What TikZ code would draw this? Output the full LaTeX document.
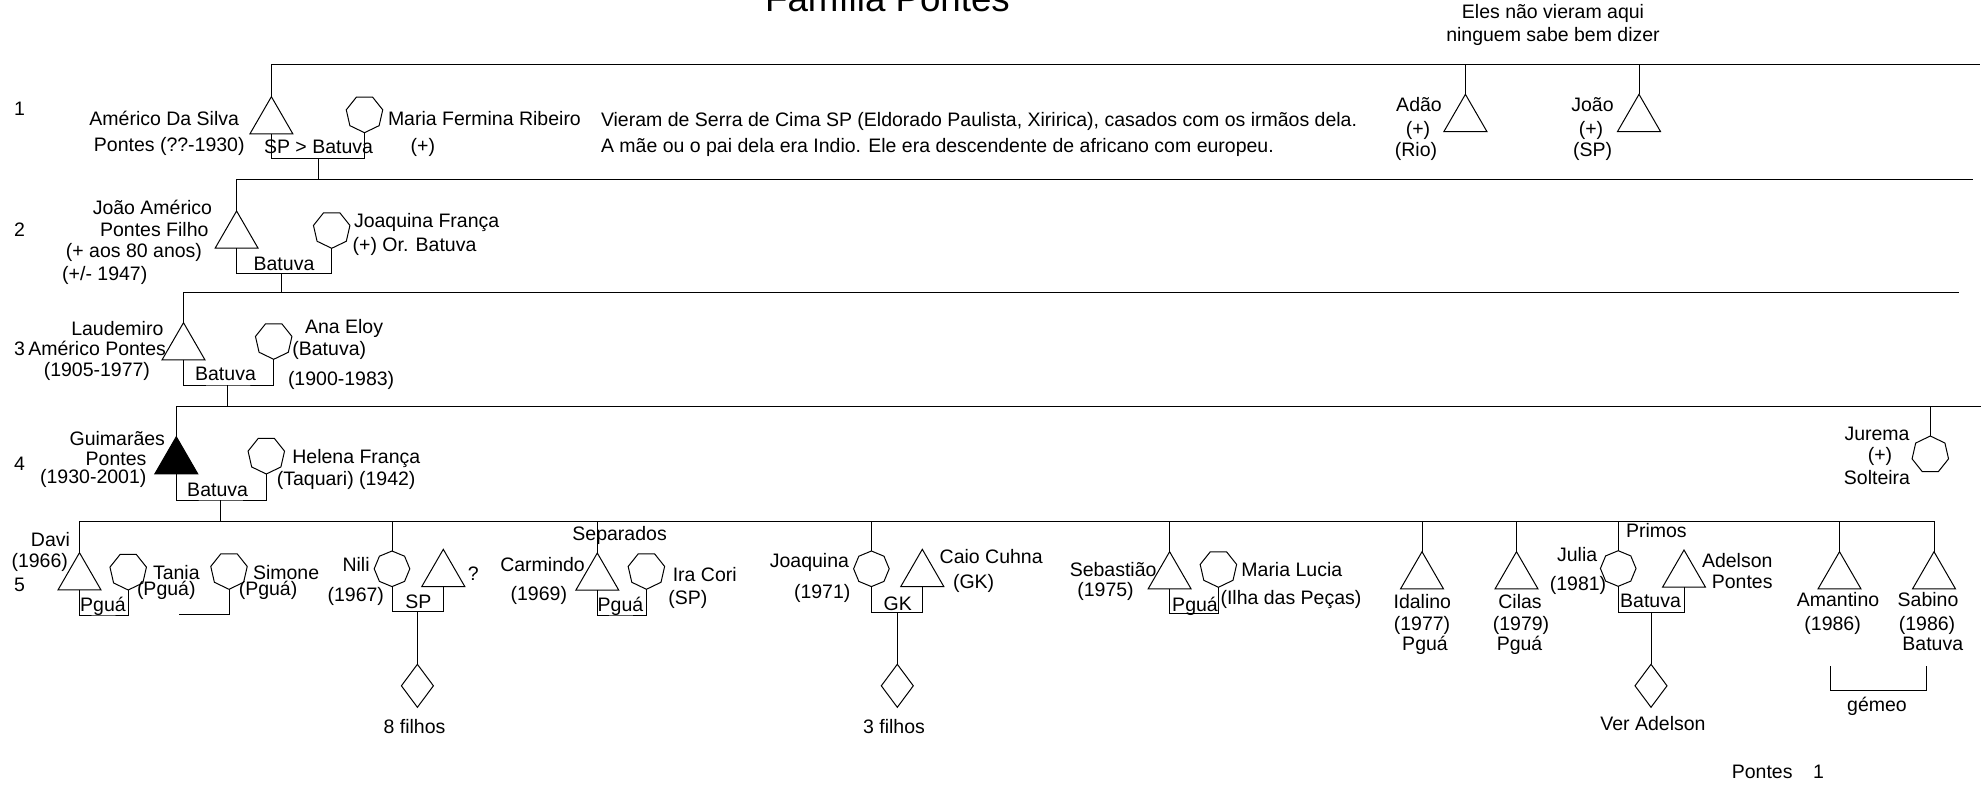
\documentclass[tikz,border=0pt]{standalone}
\usepackage{fontspec}
\setmainfont{Liberation Sans}
\usetikzlibrary{shapes.geometric}
\newcommand\fs{\fontsize{19.5}{23}\selectfont}
\begin{document}
\begin{tikzpicture}[x=1pt,y=-1pt,line width=1pt,
  tri/.style={draw, regular polygon, regular polygon sides=3, minimum size=49.6pt, inner sep=0pt, outer sep=0pt, anchor=north},
  fem/.style={draw, regular polygon, regular polygon sides=7, shape border rotate=180, minimum size=37.4pt, inner sep=0pt, outer sep=0pt, anchor=south},
  femup/.style={draw, regular polygon, regular polygon sides=7, minimum size=37.4pt, inner sep=0pt, outer sep=0pt, anchor=north},
  femoct/.style={draw, regular polygon, regular polygon sides=8, shape border rotate=22.5, minimum size=35.6pt, inner sep=0pt, outer sep=0pt, anchor=north},
  kid/.style={draw, diamond, minimum width=32pt, minimum height=43pt, inner sep=0pt, outer sep=0pt},
  txt/.style={inner sep=0pt, outer sep=0pt, font=\fs}]
\useasboundingbox (0,0) rectangle (1988,784);
\fill[white] (0,0) rectangle (1988,784);

% title
\node[txt, font=\fontsize{36.7}{40}\selectfont, anchor=base] (title) at (887.5,11.7) {Família Pontes};

% generation numbers
\node[txt, anchor=base west] (n1) at (14,115) {1};
\node[txt, anchor=base west] (n2) at (14,236) {2};
\node[txt, anchor=base west] (n3) at (14,355) {3};
\node[txt, anchor=base west] (n4) at (14,470) {4};
\node[txt, anchor=base west] (n5) at (14,591.7) {5};

% ---------- generation 1 ----------
\node[tri] (am) at (271.4,96.7) {};
\node[fem] (mf) at (364.5,132.7) {};
\node[tri] (adao) at (1465.4,94.3) {};
\node[tri] (joao1) at (1639,94.3) {};
\coordinate (g1) at (1980,64.3);
\draw (am.north) |- (g1);
\draw (adao.north) -- (adao.north |- g1);
\draw (joao1.north) -- (joao1.north |- g1);
\coordinate (c1) at (318.8,158.3);
\draw (am.south) |- (c1) -| (mf.south);
\coordinate (g2) at (1973,179.3);
\draw (c1) -- (c1 |- g2);

\node[txt, anchor=base east] (l1a) at (239,125) {Américo Da Silva};
\node[txt, anchor=base east] (l1b) at (244.6,151.7) {Pontes (??-1930)};
\node[txt, anchor=base west] (l1c) at (388,125) {Maria Fermina Ribeiro};
\node[txt, anchor=base west] (l1d) at (410.7,152) {(+)};
\node[txt, anchor=base] (l1e) at (318.5,153) {SP > Batuva};
\node[txt, anchor=base west] (l1f) at (601,126) {Vieram de Serra de Cima SP (Eldorado Paulista, Xiririca), casados com os irmãos dela.};
\node[txt, anchor=base west] (l1g) at (601,152.7) {A mãe ou o pai dela era Indio. Ele era descendente de africano com europeu.};
\node[txt, anchor=base] (l1h) at (1553,18.3) {Eles não vieram aqui};
\node[txt, anchor=base] (l1i) at (1553,41.7) {ninguem sabe bem dizer};
\node[txt, anchor=base] (l1j) at (1419,111.7) {Adão};
\node[txt, anchor=base] (l1k) at (1418,135) {(+)};
\node[txt, anchor=base] (l1l) at (1416,156.7) {(Rio)};
\node[txt, anchor=base] (l1m) at (1592.5,111.7) {João};
\node[txt, anchor=base] (l1n) at (1591,135) {(+)};
\node[txt, anchor=base] (l1o) at (1592.5,156.7) {(SP)};

% ---------- generation 2 ----------
\node[tri] (jam) at (236.6,211) {};
\node[fem] (jf) at (331.7,248.3) {};
\draw (jam.north) |- (g2);
\coordinate (c2) at (281.3,273.3);
\draw (jam.south) |- (c2) -| (jf.south);
\coordinate (g3) at (1959,292.7);
\draw (c2) -- (c2 |- g3);

\node[txt, anchor=base east] (l2a) at (212,214) {João Américo};
\node[txt, anchor=base east] (l2b) at (208.5,236) {Pontes Filho};
\node[txt, anchor=base east] (l2c) at (202,257) {(+ aos 80 anos)};
\node[txt, anchor=base east] (l2d) at (147.3,280) {(+/- 1947)};
\node[txt, anchor=base west] (l2e) at (354,227.7) {Joaquina França};
\node[txt, anchor=base west] (l2f) at (352.7,251) {(+) Or. Batuva};
\node[txt, anchor=base] (l2g) at (284,270) {Batuva};

% ---------- generation 3 ----------
\node[tri] (lau) at (183.5,322.7) {};
\node[fem] (ana) at (273.7,359.3) {};
\draw (lau.north) |- (g3);
\coordinate (c3) at (227.7,385);
\draw (lau.south) |- (c3) -| (ana.south);
\coordinate (g4) at (1981,406);
\draw (c3) -- (c3 |- g4);

\node[txt, anchor=base east] (l3a) at (163.4,335) {Laudemiro};
\node[txt, anchor=base east] (l3b) at (166,355) {Américo Pontes};
\node[txt, anchor=base east] (l3c) at (150,376.7) {(1905-1977)};
\node[txt, anchor=base west] (l3d) at (305,333.3) {Ana Eloy};
\node[txt, anchor=base west] (l3e) at (292.4,355) {(Batuva)};
\node[txt, anchor=base west] (l3f) at (288,385) {(1900-1983)};
\node[txt, anchor=base] (l3g) at (225.5,380.7) {Batuva};

% ---------- generation 4 ----------
\node[tri, fill=black] (gui) at (176.3,436.7) {};
\node[fem] (hel) at (266.3,474) {};
\node[femup] (jur) at (1930.3,436) {};
\draw (gui.north) |- (g4);
\draw (jur.north) -- (jur.north |- g4);
\coordinate (c4) at (220.3,500);
\draw (gui.south) |- (c4) -| (hel.south);
\coordinate (g5) at (1934,521);
\draw (c4) -- (c4 |- g5);

\node[txt, anchor=base east] (l4a) at (165,445) {Guimarães};
\node[txt, anchor=base east] (l4b) at (146.4,465) {Pontes};
\node[txt, anchor=base east] (l4c) at (146.4,483) {(1930-2001)};
\node[txt, anchor=base west] (l4d) at (292.4,463.3) {Helena França};
\node[txt, anchor=base west] (l4e) at (276.8,485) {(Taquari) (1942)};
\node[txt, anchor=base] (l4f) at (217.6,496.7) {Batuva};
\node[txt, anchor=base] (l4g) at (1877,440) {Jurema};
\node[txt, anchor=base] (l4h) at (1880,461) {(+)};
\node[txt, anchor=base] (l4i) at (1877,484) {Solteira};

% ---------- generation 5 ----------
\node[tri] (davi) at (79.5,552.7) {};
\node[fem] (tan) at (128.2,590) {};
\node[fem] (sim) at (229,589.3) {};
\node[femoct] (nil) at (392,551) {};
\node[tri] (q) at (443.3,549.3) {};
\node[tri] (car) at (597.3,553) {};
\node[fem] (ira) at (646.4,589.3) {};
\node[femoct] (joa) at (871.4,551) {};
\node[tri] (cai) at (922.3,549.3) {};
\node[tri] (seb) at (1169.6,551.7) {};
\node[fem] (ml) at (1218.4,587.3) {};
\node[tri] (ida) at (1422,551.7) {};
\node[tri] (cil) at (1516.5,551.7) {};
\node[femoct] (jul) at (1618.2,550.7) {};
\node[tri] (ade) at (1684,550) {};
\node[tri] (ama) at (1839.5,551.7) {};
\node[tri] (sab) at (1934,551.7) {};

\draw (davi.north) |- (g5) -- (sab.north);
\foreach \p in {nil,car,joa,seb,ida,cil,jul,ama}{
  \draw (\p.north) -- (\p.north |- g5);
}

\coordinate (cd) at (103,615);
\draw (davi.south) |- (cd) -| (tan.south);
\coordinate (cs1) at (179,614.3);
\draw (sim.south) |- (cs1);
\coordinate (cn) at (417.4,611.7);
\draw (nil.south) |- (cn) -| (q.south);
\node[kid] (d1) at (417.4,685.8) {};
\draw (cn) -- (d1.north);
\coordinate (cc) at (620,615);
\draw (car.south) |- (cc) -| (ira.south);
\coordinate (cj) at (897.3,612.3);
\draw (joa.south) |- (cj) -| (cai.south);
\node[kid] (d2) at (897.3,685.8) {};
\draw (cj) -- (d2.north);
\coordinate (cs) at (1192,613.3);
\draw (seb.south) |- (cs) -| (ml.south);
\coordinate (cju) at (1651,612.3);
\draw (jul.south) |- (cju) -| (ade.south);
\node[kid] (d3) at (1651,685.8) {};
\draw (cju) -- (d3.north);
\coordinate (tw1) at (1830.5,666);
\coordinate (tw2) at (1926.2,666);
\coordinate (twm) at (1878,690.7);
\draw (tw1) |- (twm) -| (tw2);

\node[txt, anchor=base east] (l5a) at (70,546.7) {Davi};
\node[txt, anchor=base east] (l5b) at (67.9,567.7) {(1966)};
\node[txt, anchor=base] (l5c) at (103,611) {Pguá};
\node[txt, anchor=base west] (l5d) at (153,579) {Tania};
\node[txt, anchor=base west] (l5e) at (137,595.7) {(Pguá)};
\node[txt, anchor=base west] (l5f) at (253,579) {Simone};
\node[txt, anchor=base west] (l5g) at (238.8,595.7) {(Pguá)};
\node[txt, anchor=base east] (l5h) at (369.6,571.7) {Nili};
\node[txt, anchor=base east] (l5i) at (384,601.7) {(1967)};
\node[txt, anchor=base west] (l5j) at (467.9,580) {?};
\node[txt, anchor=base] (l5k) at (418.4,608.3) {SP};
\node[txt, anchor=base] (l5l) at (414.5,733.3) {8 filhos};
\node[txt, anchor=base] (l5m) at (619.6,540) {Separados};
\node[txt, anchor=base east] (l5n) at (584.8,571.7) {Carmindo};
\node[txt, anchor=base east] (l5o) at (567,600) {(1969)};
\node[txt, anchor=base] (l5p) at (620.5,611.7) {Pguá};
\node[txt, anchor=base west] (l5q) at (672.8,581) {Ira Cori};
\node[txt, anchor=base west] (l5r) at (668.3,604.3) {(SP)};
\node[txt, anchor=base east] (l5s) at (849,567.7) {Joaquina};
\node[txt, anchor=base east] (l5t) at (850.4,598.3) {(1971)};
\node[txt, anchor=base west] (l5u) at (939.7,563.3) {Caio Cuhna};
\node[txt, anchor=base west] (l5v) at (953,588.3) {(GK)};
\node[txt, anchor=base] (l5w) at (897.8,610) {GK};
\node[txt, anchor=base] (l5x) at (894,733.3) {3 filhos};
\node[txt, anchor=base east] (l5y) at (1156.5,576) {Sebastião};
\node[txt, anchor=base east] (l5z) at (1133.7,596.7) {(1975)};
\node[txt, anchor=base] (l6a) at (1195,611) {Pguá};
\node[txt, anchor=base west] (l6b) at (1241.4,576) {Maria Lucia};
\node[txt, anchor=base west] (l6c) at (1220.5,604) {(Ilha das Peças)};
\node[txt, anchor=base] (l6d) at (1422.3,608.3) {Idalino};
\node[txt, anchor=base] (l6e) at (1422,630) {(1977)};
\node[txt, anchor=base] (l6f) at (1425,650) {Pguá};
\node[txt, anchor=base] (l6g) at (1520,608.3) {Cilas};
\node[txt, anchor=base] (l6h) at (1521,630) {(1979)};
\node[txt, anchor=base] (l6i) at (1519.5,650) {Pguá};
\node[txt, anchor=base west] (l6j) at (1626,537.3) {Primos};
\node[txt, anchor=base east] (l6k) at (1597.2,561.7) {Julia};
\node[txt, anchor=base east] (l6l) at (1606.2,590) {(1981)};
\node[txt, anchor=base east] (l6m) at (1772.5,567.7) {Adelson};
\node[txt, anchor=base east] (l6n) at (1772.5,588.3) {Pontes};
\node[txt, anchor=base] (l6o) at (1650.5,607.7) {Batuva};
\node[txt, anchor=base] (l6p) at (1653,730) {Ver Adelson};
\node[txt, anchor=base] (l6q) at (1838,606) {Amantino};
\node[txt, anchor=base] (l6r) at (1832.6,630.7) {(1986)};
\node[txt, anchor=base] (l6s) at (1928,606) {Sabino};
\node[txt, anchor=base] (l6t) at (1927,630.7) {(1986)};
\node[txt, anchor=base] (l6u) at (1932.8,650.7) {Batuva};
\node[txt, anchor=base] (l6v) at (1877,711.7) {gémeo};
\node[txt, anchor=base west] (l6w) at (1731.8,778.3) {Pontes};
\node[txt, anchor=base west] (l6x) at (1813,778.3) {1};
\end{tikzpicture}
\end{document}
